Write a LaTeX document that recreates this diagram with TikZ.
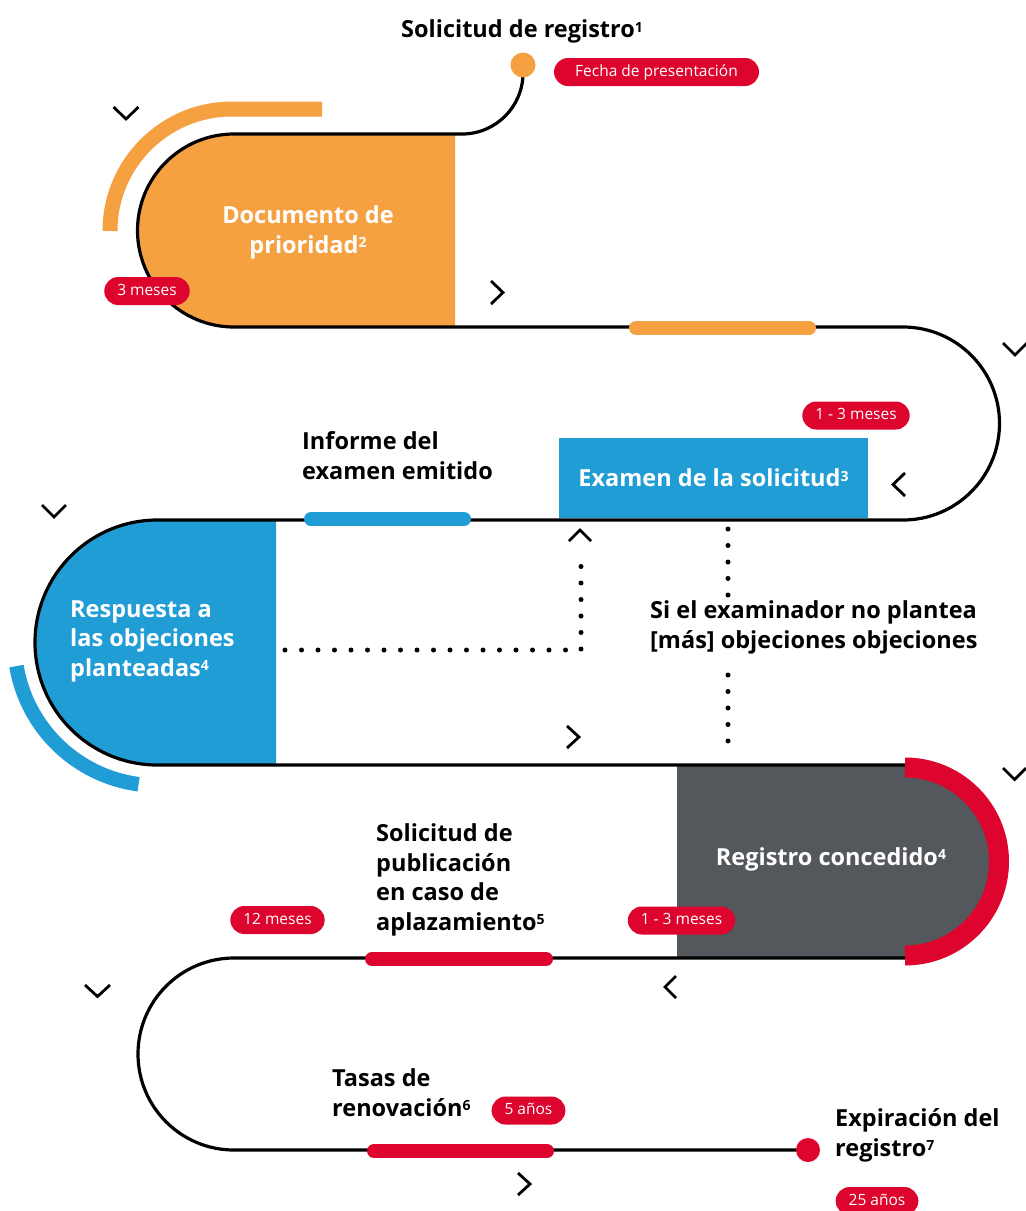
\documentclass[tikz,border=0pt]{standalone}
\usepackage{fontspec}
\setmainfont{Open Sans}
\usetikzlibrary{positioning}
\definecolor{naranja}{HTML}{F5A142}
\definecolor{azul}{HTML}{219DD6}
\definecolor{rojo}{HTML}{DD052E}
\definecolor{gris}{HTML}{54575B}
\newcommand{\nota}[1]{\raisebox{5.5pt}{\fontsize{14}{14}\selectfont #1}}
\tikzset{
  pista/.style={black,line width=3.2pt},
  chev/.style={black,line width=2.8pt},
  barra/.style={line width=14pt,line cap=round},
  puntos/.style={black,line width=5pt,line cap=round,dash pattern=on 0pt off 16.5pt},
  pastilla/.style={fill=rojo,text=white,rounded corners=14pt,minimum height=28pt,inner xsep=13pt,inner ysep=0pt,text height=11pt,text depth=3pt,font=\fontsize{15.5}{18}\selectfont},
  etiqueta/.style={align=left,anchor=base west,inner sep=0pt,font=\fontsize{23.5}{29.5}\selectfont\bfseries},
  blanca/.style={text=white,inner sep=0pt,font=\fontsize{23.5}{29.5}\selectfont\bfseries}
}
\begin{document}
\begin{tikzpicture}[x=10pt,y=10pt]
\useasboundingbox (0,0) rectangle (102.6,-121.1);
% formas de color
\fill [naranja] (45.5,-13.4) -- (23.4,-13.4) arc (90:270:9.65) -- (45.5,-32.7) -- cycle;
\fill [azul] (27.6,-52.0) -- (15.75,-52.0) arc (90:270:12.25) -- (27.6,-76.5) -- cycle;
\fill [gris] (67.7,-76.5) -- (90.5,-76.5) arc (90:-90:9.65) -- (67.7,-95.8) -- cycle;
\node [fill=azul,minimum width=309pt,minimum height=80pt,inner sep=0pt,text=white,font=\fontsize{23.5}{29.5}\selectfont\bfseries] (examen) at (71.35,-47.8) {Examen de la solicitud\nota{3}};
% pista
\coordinate (inicio) at (52.3,-6.5);
\coordinate (fin) at (80.8,-115.0);
\draw [pista] (inicio) ++(0,-0.8) arc (0:-90:6.1) -- (23.4,-13.4) arc (90:270:9.65) -- (90.3,-32.7) arc (90:-90:9.65) -- (15.75,-52.0) arc (90:270:12.25) -- (90.5,-76.5) arc (90:-90:9.65) -- (23.4,-95.8) arc (90:270:9.6) -- (fin);
\fill [naranja] (inicio) circle (1.25);
\fill [rojo] (fin) circle (1.2);
% arcos
\draw [naranja,line width=15pt] (11.0,-23.1) arc (180:90:12.2) -- (32.2,-10.9);
\draw [azul,line width=14.5pt] (15.75,-64.25) ++(189.5:14.3) arc (189.5:262.4:14.3);
\draw [rojo,line width=20pt] (90.5,-76.75) arc (90:-90:9.4);
% barras
\draw [barra,naranja] (63.6,-32.8) -- (80.9,-32.8);
\draw [barra,azul] (31.1,-51.9) -- (46.4,-51.9);
\draw [barra,rojo] (37.2,-95.9) -- (54.6,-95.9);
\draw [barra,rojo] (37.4,-115.1) -- (54.7,-115.1);
% puntos
\coordinate (objsal) at (28.5,-65.0);
\coordinate (codo) at (58.1,-65.0);
\coordinate (objlleg) at (58.1,-55.2);
\draw [puntos] (objsal) -- (codo) -- (objlleg);
\coordinate (ex1) at (72.8,-52.9);
\coordinate (ex2) at (72.8,-59.7);
\coordinate (ex3) at (72.8,-67.5);
\coordinate (ex4) at (72.8,-75.7);
\draw [puntos] (ex1) -- (ex2);
\draw [puntos] (ex3) -- (ex4);
% flechas
\draw [chev] (11.35,-10.7) -- ++(1.25,-1.2) -- ++(1.25,1.2);
\draw [chev] (49.1,-28.1) -- ++(1.2,-1.15) -- ++(-1.2,-1.15);
\draw [chev] (100.3,-34.3) -- ++(1.2,-1.2) -- ++(1.2,1.2);
\draw [chev] (90.5,-47.3) -- ++(-1.2,-1.15) -- ++(1.2,-1.15);
\draw [chev] (4.2,-50.5) -- ++(1.2,-1.2) -- ++(1.2,1.2);
\draw [chev] (56.9,-54.1) -- ++(1.1,1.1) -- ++(1.1,-1.1);
\draw [chev] (56.7,-72.6) -- ++(1.2,-1.1) -- ++(-1.2,-1.1);
\draw [chev] (100.3,-76.8) -- ++(1.15,-1.15) -- ++(1.15,1.15);
\draw [chev] (67.6,-97.6) -- ++(-1.1,-1.1) -- ++(1.1,-1.1);
\draw [chev] (8.5,-98.5) -- ++(1.25,-1.15) -- ++(1.25,1.15);
\draw [chev] (51.8,-117.3) -- ++(1.2,-1.1) -- ++(-1.2,-1.1);
% textos blancos
\node [blanca,align=center,anchor=base] (prioridad) at (30.8,-25.3) {Documento de\\prioridad\nota{2}};
\node [blanca,align=left,anchor=base west] (respuesta) at (7.0,-67.6) {Respuesta a\\las objeciones\\planteadas\nota{4}};
\node [blanca,anchor=base] (concedido) at (83.1,-86.5) {Registro concedido\nota{4}};
% etiquetas
\node [etiqueta] (solicitud) at (40.1,-3.75) {Solicitud de registro\nota{1}};
\node [etiqueta] (informe) at (30.2,-47.9) {Informe del\\examen emitido};
\node [etiqueta] (examinador) at (65.0,-64.8) {Si el examinador no plantea\\{[}más{]} objeciones objeciones};
\node [etiqueta] (publicacion) at (37.6,-93.0) {Solicitud de\\publicación\\en caso de\\aplazamiento\nota{5}};
\node [etiqueta] (tasas) at (33.2,-111.6) {Tasas de\\renovación\nota{6}};
\node [etiqueta] (expiracion) at (83.5,-115.6) {Expiración del\\registro\nota{7}};
% plazos
\node [pastilla,minimum width=205pt] (fecha) at (65.65,-7.2) {Fecha de presentación};
\node [pastilla] (tres) at (14.7,-29.1) {3 meses};
\node [pastilla] (plazoexamen) at (85.6,-41.55) {1 - 3 meses};
\node [pastilla] (doce) at (27.75,-92.0) {12 meses};
\node [pastilla] (plazoregistro) at (68.15,-92.05) {1 - 3 meses};
\node [pastilla] (cinco) at (52.85,-111.05) {5 años};
\node [pastilla] (veinticinco) at (87.7,-120.1) {25 años};
\end{tikzpicture}
\end{document}
